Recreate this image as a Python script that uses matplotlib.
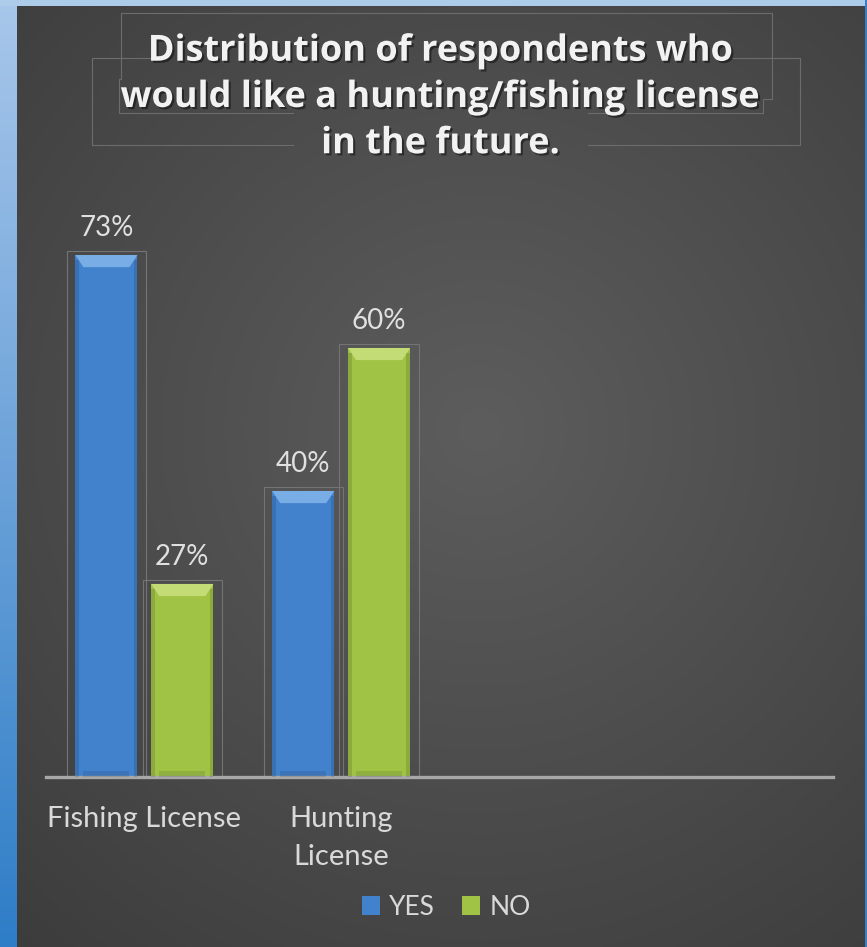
import numpy as np
import matplotlib.pyplot as plt
import matplotlib.patheffects as pe
from matplotlib.patches import Polygon, Rectangle
from matplotlib.lines import Line2D

# survey results (percent of respondents)
categories = ["Fishing License", "Hunting License"]
tick_labels = ["Fishing License", "Hunting\nLicense"]
series = ["YES", "NO"]
yes_pct = [73, 40]
no_pct = [27, 60]

W, H = 867, 947
fig = plt.figure(figsize=(W / 100, H / 100), dpi=100)

# backdrop: dark panel with soft radial light, blue border strips
yy, xx = np.mgrid[0:H, 0:W]
r = np.hypot((xx - 480) / 620, (yy - 430) / 620)
g = np.clip(0.365 - 0.115 * r, 0.235, 0.37)
bg = np.dstack([g, g, g])
t = (yy / H)[..., None]
strip = np.array([0.66, 0.78, 0.92]) - np.array([0.48, 0.29, 0.14]) * t
left = xx < 17
bg[left] = strip[left]
bg[yy < 6] = [0.68, 0.80, 0.92]
bg[xx >= 865] = [0.23, 0.50, 0.78]

ax_bg = fig.add_axes([0, 0, 1, 1], zorder=-10)
ax_bg.imshow(bg, extent=(0, W, H, 0), aspect="auto")
ax_bg.axis("off")

# decorative frame lines around the title (pixel coords)
frame_segs = [
    [(121, 79), (121, 13), (772, 13), (772, 99), (763, 99), (763, 113), (588, 113)],
    [(293, 113), (119, 113), (119, 79), (121, 79)],
    [(150, 58), (92, 58), (92, 145), (293, 145)],
    [(588, 145), (800, 145), (800, 58), (733, 58)],
]
for seg in frame_segs:
    px = [p[0] / W for p in seg]
    py = [1 - p[1] / H for p in seg]
    fig.add_artist(Line2D(px, py, color="#6c6c6c", lw=0.8))

ax = fig.add_axes([46 / W, (H - 777) / H, 787 / W, 577 / H])
ax.set_facecolor("none")

x = np.arange(len(categories))
bw = 0.316
off = 0.193
blue, blue_lt = "#4282cd", "#86b9ec"
green, green_lt = "#a0c346", "#cde383"

b_yes = ax.bar(x - off, yes_pct, bw, color=blue, zorder=2)
b_no = ax.bar(x + off, no_pct, bw, color=green, zorder=2)


def bevel(patch, light):
    bx, w, h = patch.get_x(), patch.get_width(), patch.get_height()
    dx, dy = w * 0.13, 1.7
    ax.add_patch(Polygon([(bx, h), (bx + w, h), (bx + w - dx, h - dy), (bx + dx, h - dy)],
                         closed=True, fc=light, ec="none", alpha=0.8, zorder=3))
    for sx in (bx, bx + w * 0.94):
        ax.add_patch(Rectangle((sx, 0), w * 0.06, h - dy * 0.4, fc="black",
                               alpha=0.12, ec="none", zorder=3))
    ax.add_patch(Rectangle((bx + dx, 0), w - 2 * dx, 0.9, fc="black",
                           alpha=0.10, ec="none", zorder=3))
    # faint outline box around the bar
    fw = 0.403
    ax.add_patch(Rectangle((bx + w / 2 - fw / 2, 0), fw, h + 0.56, fill=False,
                           ec="#747474", lw=0.8, zorder=1))


for bars, light in ((b_yes, blue_lt), (b_no, green_lt)):
    for p in bars:
        bevel(p, light)
    ax.bar_label(bars, labels=[f"{v:.0f}%" for v in bars.datavalues], padding=10,
                 color="#e0e0e0", fontsize=20, family="Lato")

ax.set_xlim(-0.5, 3.5)
ax.set_ylim(0, 577 / (522 / 73))
ax.set_xticks(x)
ax.set_xticklabels(tick_labels, color="#d9d9d9", fontsize=21, family="Lato",
                   linespacing=1.55, va="top")
ax.tick_params(axis="x", length=0, pad=21)
ax.set_yticks([])
for s in ("left", "right", "top"):
    ax.spines[s].set_visible(False)
ax.spines["bottom"].set_color("#a8a8a8")
ax.spines["bottom"].set_linewidth(2.4)

fig.text(441 / W, 1 - 98 / H,
         "Distribution of respondents who\nwould like a hunting/fishing license\nin the future.",
         ha="center", va="center", color="#f2f2f2", fontsize=26, fontweight="bold",
         family="Open Sans", linespacing=1.38,
         path_effects=[pe.withSimplePatchShadow(offset=(1.5, -1.5), shadow_rgbFace="black", alpha=0.45)])

fig.legend([b_yes, b_no], series, loc="center", bbox_to_anchor=(446 / W, 1 - 907 / H),
           ncol=2, frameon=False, handlelength=0.7, handleheight=0.7,
           handletextpad=0.35, columnspacing=1.0, labelcolor="#d9d9d9",
           prop={"family": "Lato", "size": 19})

fig.savefig("out.png", dpi=100)
